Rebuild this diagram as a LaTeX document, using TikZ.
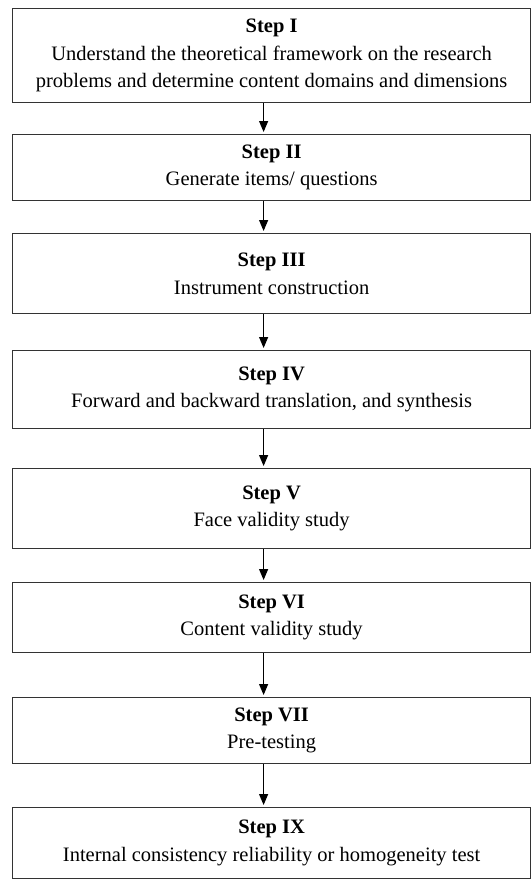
\documentclass[tikz,border=0pt]{standalone}
\usepackage{fontspec}
\setmainfont{Liberation Serif}
\usepackage{tikz}
\usetikzlibrary{arrows.meta}

\begin{document}
\begin{tikzpicture}[x=1pt, y=-1pt,
    stepbox/.style={draw=black!80, line width=1.2pt, rectangle, align=center,
        anchor=north west, minimum width=518pt, inner sep=0pt,
        font=\fontsize{20.5}{27.5}\selectfont},
    >={Triangle[width=9pt, length=11pt]}]
\useasboundingbox (0,0) rectangle (531,881);
% Steps
\foreach \n/\y/\h/\txt in {
    I/8/94/{Understand the theoretical framework on the research\\problems and determine content domains and dimensions},
    II/134/66/{Generate items/ questions},
    III/233/80/{Instrument construction},
    IV/350/78/{Forward and backward translation, and synthesis},
    V/468/80/{Face validity study},
    VI/582/70/{Content validity study},
    VII/697/66/{Pre-testing},
    IX/807/71/{Internal consistency reliability or homogeneity test}} {
    \node[stepbox, minimum height=\h pt] (step\n) at (12, \y) {\textbf{Step \n}\\\txt};
}
% Arrows
\foreach \a/\b in {I/II, II/III, III/IV, IV/V, V/VI, VI/VII, VII/IX} {
    \draw[->, line width=1.2pt, shorten >=2pt] ([xshift=-8pt]step\a.south) -- ([xshift=-8pt]step\b.north);
}
\end{tikzpicture}
\end{document}
